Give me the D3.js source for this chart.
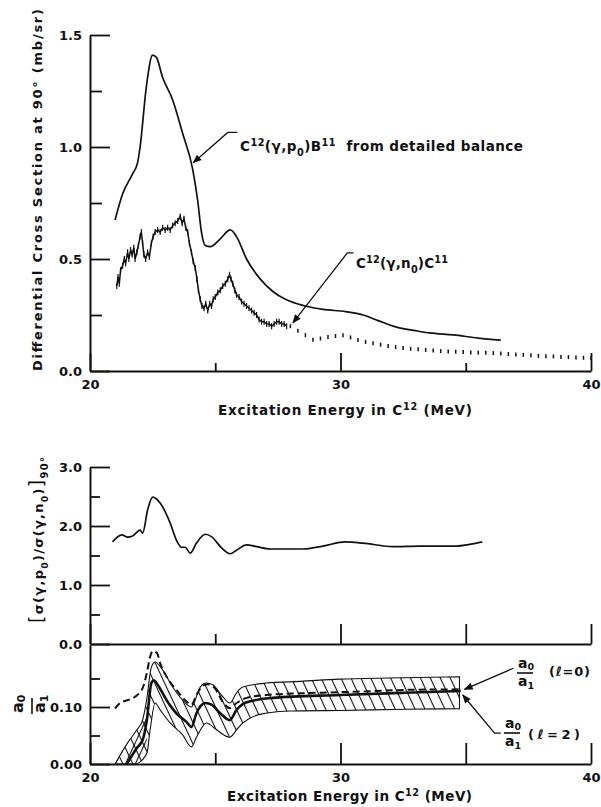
<!DOCTYPE html>
<html>
<head>
<meta charset="utf-8">
<script src="https://cdn.jsdelivr.net/npm/d3@7"></script>
<style>
  body { margin: 0; background: #fff; }
  svg { display: block; }
  text { font-family: "DejaVu Sans", sans-serif; font-weight: bold; fill: #111; }
</style>
</head>
<body>
<svg id="chart" width="601" height="807"></svg>
<script>
// ---------- data ----------
const xTicks = [20, 30, 40];
const xMinor = [25, 35];
const topYTicks = [0, 0.5, 1.0, 1.5];
const topYMinor = [0.25, 0.75, 1.25];
const midYTicks = [0, 1, 2, 3];
const midYMinor = [0.5, 1.5, 2.5];
const lowYTicks = [0, 0.10];
const lowYMinor = [0.05, 0.15];

// C12(γ,p0)B11 from detailed balance, [MeV, mb/sr]
const pDetailed = [
  [21.0, 0.674], [21.3, 0.79], [21.7, 0.88], [21.9, 0.93], [22.0, 1.0], [22.25, 1.27],
  [22.5, 1.41], [22.65, 1.40], [22.9, 1.31], [23.3, 1.21], [23.7, 1.06], [24.1, 0.90],
  [24.3, 0.76], [24.45, 0.62], [24.6, 0.56], [24.8, 0.555], [25.2, 0.59], [25.6, 0.63],
  [25.85, 0.60], [26.25, 0.50], [26.8, 0.41], [27.3, 0.355], [27.8, 0.32], [28.6, 0.29],
  [29.3, 0.275], [30.2, 0.265], [30.9, 0.25], [31.5, 0.225], [32.2, 0.197], [33.0, 0.18],
  [33.55, 0.17], [34.5, 0.161], [35.5, 0.147], [36.4, 0.138]
];

// C12(γ,n0)C11 measured, dense part
const nMeasured = [
  [21.07, 0.38], [21.12, 0.42], [21.17, 0.39], [21.22, 0.45], [21.3, 0.47], [21.37, 0.50],
  [21.42, 0.48], [21.5, 0.53], [21.55, 0.50], [21.62, 0.54], [21.68, 0.52], [21.75, 0.55],
  [21.8, 0.50], [21.87, 0.53], [21.93, 0.56], [22.0, 0.60], [22.05, 0.62], [22.1, 0.57],
  [22.15, 0.52], [22.22, 0.50], [22.3, 0.53], [22.37, 0.51], [22.45, 0.57], [22.52, 0.60],
  [22.6, 0.62], [22.7, 0.63], [22.8, 0.62], [22.9, 0.64], [23.0, 0.63], [23.1, 0.64],
  [23.2, 0.63], [23.3, 0.65], [23.4, 0.66], [23.5, 0.67], [23.6, 0.69], [23.68, 0.66],
  [23.75, 0.68], [23.82, 0.64], [23.9, 0.62], [23.97, 0.57], [24.05, 0.53], [24.12, 0.49],
  [24.2, 0.46], [24.27, 0.41], [24.33, 0.36], [24.4, 0.32], [24.47, 0.29], [24.55, 0.28],
  [24.62, 0.30], [24.7, 0.27], [24.78, 0.30], [24.85, 0.29], [24.92, 0.32], [25.0, 0.33],
  [25.1, 0.35], [25.2, 0.36], [25.3, 0.38], [25.4, 0.39], [25.5, 0.41], [25.57, 0.43],
  [25.63, 0.41], [25.7, 0.39], [25.78, 0.36], [25.85, 0.34], [25.95, 0.33], [26.05, 0.31],
  [26.15, 0.30], [26.25, 0.29], [26.35, 0.28], [26.45, 0.27], [26.55, 0.26], [26.65, 0.25],
  [26.75, 0.23], [26.85, 0.22], [26.95, 0.22], [27.05, 0.21], [27.15, 0.21], [27.25, 0.20],
  [27.35, 0.21], [27.45, 0.22], [27.55, 0.22], [27.65, 0.21], [27.75, 0.21], [27.85, 0.20]
];

// C12(γ,n0)C11 dotted tail
const nTail = [
  [28.0, 0.20], [28.3, 0.18], [28.6, 0.16], [28.9, 0.14], [29.2, 0.145], [29.5, 0.152],
  [29.8, 0.156], [30.1, 0.16], [30.4, 0.15], [30.7, 0.138], [31.0, 0.13], [31.3, 0.124],
  [31.6, 0.118], [31.9, 0.112], [32.2, 0.107], [32.5, 0.103], [32.8, 0.099], [33.1, 0.097],
  [33.4, 0.094], [33.7, 0.091], [34.0, 0.089], [34.3, 0.087], [34.6, 0.086], [34.9, 0.085],
  [35.2, 0.083], [35.5, 0.082], [35.8, 0.081], [36.1, 0.080], [36.4, 0.078], [36.7, 0.076],
  [37.0, 0.074], [37.3, 0.072], [37.6, 0.070], [37.9, 0.068], [38.2, 0.066], [38.5, 0.065],
  [38.8, 0.063], [39.1, 0.062], [39.4, 0.060], [39.7, 0.059], [40.0, 0.058]
];

// [σ(γ,p0)/σ(γ,n0)] at 90°
const ratio = [
  [20.9, 1.73], [21.27, 1.85], [21.5, 1.81], [21.7, 1.83], [22.0, 1.93], [22.1, 1.88],
  [22.3, 2.27], [22.5, 2.49], [22.8, 2.39], [23.2, 2.05], [23.45, 1.76], [23.65, 1.64],
  [23.8, 1.64], [24.0, 1.54], [24.25, 1.71], [24.6, 1.86], [24.85, 1.82], [25.25, 1.63],
  [25.6, 1.53], [25.85, 1.59], [26.25, 1.68], [26.65, 1.65], [27.2, 1.61], [28.5, 1.61],
  [29.3, 1.66], [30.2, 1.73], [30.9, 1.71], [32.1, 1.65], [33.15, 1.66], [34.6, 1.66],
  [35.66, 1.73]
];

// a0/a1, l = 0 (dashed)
const a0a1L0 = [
  [21.0, 0.097], [21.2, 0.107], [21.5, 0.112], [21.8, 0.118], [22.0, 0.126], [22.1, 0.133],
  [22.27, 0.16], [22.4, 0.188], [22.5, 0.198], [22.67, 0.195], [22.8, 0.177], [23.06, 0.153],
  [23.45, 0.13], [23.8, 0.112], [24.05, 0.104], [24.25, 0.121], [24.5, 0.137], [24.7, 0.14],
  [24.98, 0.133], [25.3, 0.109], [25.58, 0.098], [25.85, 0.107], [26.25, 0.116], [27.05, 0.121],
  [28.4, 0.124], [29.96, 0.126], [31.3, 0.128], [32.6, 0.130], [34.8, 0.131]
];

// a0/a1, l = 2 (heavy solid)
const a0a1L2 = [
  [21.47, 0.0], [21.87, 0.028], [22.1, 0.042], [22.27, 0.077], [22.45, 0.142], [22.55, 0.147],
  [22.7, 0.139], [23.06, 0.112], [23.45, 0.089], [23.85, 0.074], [24.05, 0.065], [24.25, 0.089],
  [24.6, 0.107], [24.85, 0.104], [25.2, 0.089], [25.58, 0.077], [25.85, 0.095], [26.1, 0.105],
  [26.5, 0.111], [27.3, 0.116], [29.96, 0.121], [32.6, 0.125], [34.8, 0.128]
];

// error band limits
const bandUpper = [
  [21.0, 0.0], [21.5, 0.037], [21.87, 0.06], [22.1, 0.077], [22.26, 0.112], [22.45, 0.17],
  [22.6, 0.179], [22.9, 0.165], [23.3, 0.135], [23.7, 0.112], [24.05, 0.10], [24.4, 0.135],
  [24.65, 0.142], [24.9, 0.139], [25.3, 0.118], [25.58, 0.107], [25.85, 0.125], [26.1, 0.135],
  [27.05, 0.142], [28.4, 0.145], [29.96, 0.149], [31.95, 0.151], [34.75, 0.153]
];
const bandLower = [
  [21.87, 0.0], [22.27, 0.019], [22.4, 0.06], [22.6, 0.107], [22.8, 0.095], [23.2, 0.072],
  [23.7, 0.051], [24.05, 0.03], [24.25, 0.047], [24.65, 0.072], [25.05, 0.06], [25.58, 0.047],
  [25.85, 0.06], [26.1, 0.072], [26.5, 0.083], [27.0, 0.089], [28.0, 0.093], [29.96, 0.094],
  [32.6, 0.096], [34.75, 0.097]
];

// ---------- scales ----------
const svg = d3.select("#chart");
const x = d3.scaleLinear().domain([20, 40]).range([90, 591]);
const yTop = d3.scaleLinear().domain([0, 1.5]).range([371, 35]);
const yMid = d3.scaleLinear().domain([0, 3]).range([644, 467]);
const yLow = d3.scaleLinear().domain([0, 0.2088]).range([764, 645]);

const ink = "#111";

const defs = svg.append("defs");
defs.append("marker")
  .attr("id", "arrow")
  .attr("viewBox", "0 0 10 10")
  .attr("refX", 9).attr("refY", 5)
  .attr("markerWidth", 11).attr("markerHeight", 9)
  .attr("markerUnits", "userSpaceOnUse")
  .attr("orient", "auto")
  .append("path").attr("d", "M0,1 L10,5 L0,9 Z").attr("fill", ink);

function hatch(id, angle) {
  const p = defs.append("pattern")
    .attr("id", id)
    .attr("patternUnits", "userSpaceOnUse")
    .attr("width", 9).attr("height", 9)
    .attr("patternTransform", "rotate(" + angle + ")");
  p.append("line")
    .attr("x1", 4.5).attr("y1", -1).attr("x2", 4.5).attr("y2", 10)
    .attr("stroke", ink).attr("stroke-width", 1.1);
}
hatch("hatchBack", -25);
hatch("hatchFwd", 25);

// ---------- axes ----------
function styleAxis(g) {
  g.selectAll(".domain").attr("stroke", ink).attr("stroke-width", 2);
  g.selectAll(".tick line").attr("stroke", ink).attr("stroke-width", 1.8);
  g.selectAll("text").attr("font-family", "DejaVu Sans, sans-serif")
    .attr("font-weight", "bold").attr("font-size", 13).attr("fill", ink);
}

function leftAxis(y, major, minor, fmt, majorLen, minorLen) {
  svg.append("g").attr("transform", "translate(90,0)")
    .call(d3.axisLeft(y).tickValues(major).tickFormat(fmt)
      .tickSize(-majorLen).tickSizeOuter(0).tickPadding(8))
    .call(styleAxis);
  svg.append("g").attr("transform", "translate(90,0)")
    .call(d3.axisLeft(y).tickValues(minor).tickFormat("")
      .tickSize(-minorLen).tickSizeOuter(0))
    .call(styleAxis)
    .select(".domain").remove();
}

function bottomAxis(yPos, major, minor, majorLen, minorLen, labels) {
  svg.append("g").attr("transform", "translate(0," + yPos + ")")
    .call(d3.axisBottom(x).tickValues(major)
      .tickFormat(d => labels.includes(d) ? d3.format("d")(d) : "")
      .tickSize(-majorLen).tickSizeOuter(0).tickPadding(9))
    .call(styleAxis);
  svg.append("g").attr("transform", "translate(0," + yPos + ")")
    .call(d3.axisBottom(x).tickValues(minor).tickFormat("")
      .tickSize(-minorLen).tickSizeOuter(0))
    .call(styleAxis)
    .select(".domain").remove();
}

// top panel
leftAxis(yTop, topYTicks, topYMinor, d3.format(".1f"), 20, 12);
bottomAxis(371, xTicks, xMinor, 18, 8, xTicks);

// middle panel
leftAxis(yMid, midYTicks, midYMinor, d3.format(".1f"), 20, 10);
bottomAxis(644, [20, 30, 35, 40], [25], 20, 10, []);

// lower panel
leftAxis(yLow, lowYTicks, lowYMinor, d3.format(".2f"), 20, 10);
bottomAxis(764, [20, 30, 35, 40], [25], 21, 11, xTicks);

// ---------- top panel curves ----------
const lineTop = d3.line().x(d => x(d[0])).y(d => yTop(d[1])).curve(d3.curveMonotoneX);
svg.append("path").datum(pDetailed)
  .attr("d", lineTop).attr("fill", "none").attr("stroke", ink).attr("stroke-width", 1.7);

svg.append("path").datum(nMeasured)
  .attr("d", d3.line().x(d => x(d[0])).y(d => yTop(d[1])))
  .attr("fill", "none").attr("stroke", ink).attr("stroke-width", 1.5);
svg.selectAll(".nbar").data(nMeasured).enter().append("line")
  .attr("class", "nbar")
  .attr("x1", d => x(d[0])).attr("x2", d => x(d[0]))
  .attr("y1", d => yTop(d[1]) - 3).attr("y2", d => yTop(d[1]) + 3)
  .attr("stroke", ink).attr("stroke-width", 1.2);
svg.selectAll(".tbar").data(nTail).enter().append("line")
  .attr("class", "tbar")
  .attr("x1", d => x(d[0])).attr("x2", d => x(d[0]))
  .attr("y1", d => yTop(d[1]) - 2).attr("y2", d => yTop(d[1]) + 2)
  .attr("stroke", ink).attr("stroke-width", 1.5);

// ---------- middle panel ----------
svg.append("path").datum(ratio)
  .attr("d", d3.line().x(d => x(d[0])).y(d => yMid(d[1])).curve(d3.curveMonotoneX))
  .attr("fill", "none").attr("stroke", ink).attr("stroke-width", 1.7);

// ---------- lower panel ----------
const lineLow = d3.line().x(d => x(d[0])).y(d => yLow(d[1])).curve(d3.curveMonotoneX);
function bandPath(upper, lower) {
  const back = lineLow(lower.slice().reverse());
  return lineLow(upper) + "L" + back.slice(1) + "Z";
}
svg.append("path")
  .attr("d", bandPath(bandUpper, bandLower))
  .attr("fill", "url(#hatchBack)").attr("stroke", ink).attr("stroke-width", 1.1);
svg.append("path")
  .attr("d", bandPath(bandUpper.filter(d => d[0] <= 22.26), bandLower.filter(d => d[0] <= 22.27)))
  .attr("fill", "url(#hatchFwd)").attr("stroke", "none");

svg.append("path").datum(a0a1L2)
  .attr("d", lineLow).attr("fill", "none").attr("stroke", ink).attr("stroke-width", 2.6);
svg.append("path").datum(a0a1L0)
  .attr("d", lineLow).attr("fill", "none").attr("stroke", ink).attr("stroke-width", 2)
  .attr("stroke-dasharray", "7,4");

// ---------- text ----------
function rich(t, segs, size) {
  // segs: [text, shift] where shift: 0 normal, 1 superscript, -1 subscript
  t.attr("font-size", size);
  let prev = 0;
  segs.forEach(([s, shift]) => {
    const dy = (prev - shift) * size * 0.38;
    t.append("tspan").attr("dy", dy)
      .attr("font-size", shift === 0 ? size : size * 0.72)
      .text(s);
    prev = shift;
  });
  return t;
}

// axis titles
[[218, 415, 254], [227, 801, 245]].forEach(([tx, ty, len]) => {
  const t = svg.append("text").attr("x", tx).attr("y", ty)
    .attr("textLength", len).attr("lengthAdjust", "spacing");
  rich(t, [["Excitation Energy in C", 0], ["12", 1], [" (MeV)", 0]], 13.5);
});

svg.append("text")
  .attr("transform", "translate(42,190) rotate(-90)")
  .attr("text-anchor", "middle").attr("font-size", 13)
  .attr("textLength", 362).attr("lengthAdjust", "spacing")
  .text("Differential Cross Section at 90° (mb/sr)");

{
  const t = svg.append("text")
    .attr("transform", "translate(43,623) rotate(-90)")
    .attr("font-size", 13)
    .attr("textLength", 166).attr("lengthAdjust", "spacing");
  t.append("tspan").attr("font-size", 19).attr("font-weight", "normal").text("[");
  rich(t, [["σ(γ,p", 0], ["0", -1], [")/σ(γ,n", 0], ["0", -1], [")", 0]], 13);
  t.append("tspan").attr("font-size", 19).attr("font-weight", "normal").text("]");
  t.append("tspan").attr("font-size", 10).attr("dy", 5).text("90°");
}

// a0/a1 fractions: one text element each, plus the bar
function fraction(cx, cy, size, rotate, numY, denY) {
  const g = svg.append("g")
    .attr("transform", "translate(" + cx + "," + cy + ")" + (rotate ? " rotate(-90)" : ""));
  const t = g.append("text").attr("font-size", size);
  t.append("tspan").attr("x", -6).attr("y", numY).text("a");
  t.append("tspan").attr("font-size", size * 0.68).attr("dy", 2).text("0");
  t.append("tspan").attr("x", -6).attr("y", denY).text("a");
  t.append("tspan").attr("font-size", size * 0.68).attr("dy", 3).text("1");
  g.append("line").attr("x1", -7).attr("x2", 9).attr("y1", 0).attr("y2", 0)
    .attr("stroke", ink).attr("stroke-width", 1.6);
}
fraction(32, 707, 16, true, -9, 13);
fraction(524, 673, 14, false, -5, 13);
fraction(511, 733, 14, false, -5, 13);

svg.append("text").attr("x", 549).attr("y", 676).attr("font-size", 13)
  .attr("textLength", 41).attr("lengthAdjust", "spacing").text("(ℓ=0)");
svg.append("text").attr("x", 528).attr("y", 739).attr("font-size", 13)
  .attr("textLength", 52).attr("lengthAdjust", "spacing").text("(ℓ=2)");

// curve labels
{
  const t = svg.append("text").attr("x", 240).attr("y", 151)
    .attr("textLength", 283).attr("lengthAdjust", "spacing");
  rich(t, [["C", 0], ["12", 1], ["(γ,p", 0], ["0", -1], [")B", 0], ["11", 1], ["\u00a0 from detailed balance", 0]], 13.5);
}
{
  const t = svg.append("text").attr("x", 356).attr("y", 268)
    .attr("textLength", 92).attr("lengthAdjust", "spacing");
  rich(t, [["C", 0], ["12", 1], ["(γ,n", 0], ["0", -1], [")C", 0], ["11", 1]], 13.5);
}

// arrows (in data units)
function arrow(points, y) {
  svg.append("path")
    .attr("d", d3.line().x(d => x(d[0])).y(d => y(d[1]))(points))
    .attr("fill", "none").attr("stroke", ink).attr("stroke-width", 1.3)
    .attr("marker-end", "url(#arrow)");
}
arrow([[25.88, 1.065], [25.5, 1.065], [24.12, 0.93]], yTop);
arrow([[30.52, 0.527], [30.27, 0.527], [28.1, 0.215]], yTop);
arrow([[36.9, 0.168], [34.95, 0.131]], yLow);
arrow([[36.4, 0.054], [36.15, 0.054], [34.88, 0.121]], yLow);
</script>
</body>
</html>
